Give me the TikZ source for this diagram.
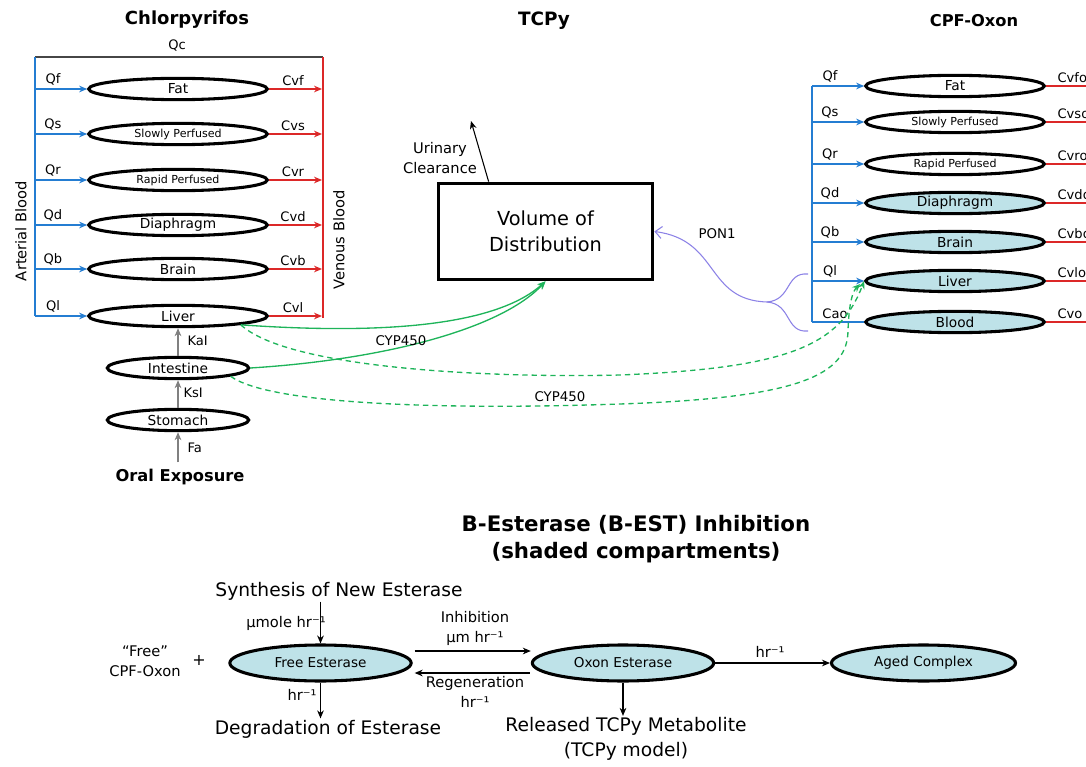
\documentclass[tikz,border=0pt]{standalone}
\usepackage{fontspec}
\setmainfont{DejaVu Sans}
\usetikzlibrary{shapes.geometric,arrows.meta,calc}
\definecolor{ablue}{RGB}{36,125,210}
\definecolor{vred}{RGB}{220,40,40}
\definecolor{cgreen}{RGB}{30,180,90}
\definecolor{ppurple}{RGB}{140,130,230}
\definecolor{shade}{RGB}{190,226,232}
\definecolor{topgray}{RGB}{70,70,70}
\tikzset{
  comp/.style={ellipse, draw=black, line width=2.3pt, inner sep=0pt,
    minimum width=134pt, minimum height=16pt, font=\fontsize{10.3}{12}\selectfont},
  smallcomp/.style={comp, font=\fontsize{8.3}{10}\selectfont},
  gut/.style={comp, minimum width=106pt, minimum height=16pt},
  shcomp/.style={comp, fill=shade},
  bcomp/.style={ellipse, draw=black, line width=2.3pt, fill=shade, inner sep=0pt,
    minimum width=136pt, minimum height=27pt, font=\fontsize{10.2}{12}\selectfont},
  lbl/.style={font=\fontsize{9.8}{11}\selectfont, inner sep=1pt},
  ttl/.style={font=\bfseries\fontsize{12.2}{14}\selectfont},
  barrow/.style={draw=ablue, line width=0.9pt, -{Stealth[length=6pt,width=5pt]}},
  bline/.style={draw=ablue, line width=0.9pt},
  rarrow/.style={draw=vred, line width=0.9pt, -{Stealth[length=6pt,width=5pt]}},
  rline/.style={draw=vred, line width=0.9pt},
  garrow/.style={draw=gray, line width=0.9pt, -{Stealth[length=6pt,width=5pt]}},
  karrow/.style={draw=black, line width=0.8pt, -{Stealth[length=6pt,width=5pt]}},
  cyp/.style={draw=cgreen, line width=1pt, -{Stealth[length=6pt,width=5pt]}},
  cypd/.style={cyp, dash pattern=on 4pt off 3pt},
  pon/.style={draw=ppurple, line width=0.8pt},
  midtxt/.style={font=\fontsize{11}{15}\selectfont, align=center, inner sep=1pt},
  bigtxt/.style={font=\fontsize{14}{18.75}\selectfont, align=center, inner sep=1pt},
}
\begin{document}
\begin{tikzpicture}[x=0.75pt,y=-0.75pt]
\useasboundingbox (0,0) rectangle (1086,767);

% ---------------- Chlorpyrifos ----------------
\node[ttl, font=\bfseries\fontsize{13.5}{15}\selectfont] (t1) at (187,20) {Chlorpyrifos};
\coordinate (aTop) at (35,57);
\coordinate (vTop) at (323,57);
\coordinate (aBot) at (35,316);
\coordinate (vBot) at (323,318);
\draw[topgray, line width=0.9pt] (aTop) -- (vTop);
\node[lbl] (qc) at (177,45) {Qc};
\draw[bline] (aTop) -- (aBot);
\draw[rline] (vTop) -- (vBot);
\node[font=\fontsize{11}{12}\selectfont, rotate=90] (art) at (21,231) {Arterial Blood};
\node[font=\fontsize{11}{12}\selectfont, rotate=90] (ven) at (339,240) {Venous Blood};

\foreach \n/\t/\y/\q/\c/\st in {
  lf/Fat/89/Qf/Cvf/comp,
  ls/Slowly Perfused/134/Qs/Cvs/smallcomp,
  lr/Rapid Perfused/180/Qr/Cvr/smallcomp,
  ld/Diaphragm/225/Qd/Cvd/comp,
  lb/Brain/269/Qb/Cvb/comp,
  ll/Liver/316/Ql/Cvl/comp}{
  \node[\st] (\n) at (178,\y) {\t};
  \coordinate (a\n) at (35,\y);
  \coordinate (v\n) at (322,\y);
  \draw[barrow] (a\n) -- (\n.west);
  \draw[rarrow] (\n.east) -- (v\n);
  \node[lbl, anchor=south] (q\n) at (53,{\y-2}) {\q};
  \node[lbl, anchor=south] (c\n) at (293,{\y-2}) {\c};
}

\node[gut] (int) at (178,368) {Intestine};
\node[gut] (sto) at (178,420) {Stomach};
\node[ttl] (oral) at (180,477) {Oral Exposure};
\draw[garrow] (int.north) -- (ll.south);
\draw[garrow] (sto.north) -- (int.south);
\draw[garrow] ($(oral.north)+(-2,-2)$) -- (sto.south);
\node[lbl, anchor=west] (ka) at (186,341) {KaI};
\node[lbl, anchor=west] (ks) at (182,393) {KsI};
\node[lbl, anchor=west] (fa) at (186,448) {Fa};

% ---------------- TCPy ----------------
\node[ttl, font=\bfseries\fontsize{13.8}{15}\selectfont] (t2) at (544,21) {TCPy};
\node[draw=black, line width=2.3pt, minimum width=161pt, minimum height=72.5pt,
  inner sep=0pt, font=\fontsize{14.5}{19.5}\selectfont, align=center] (box) at (545.5,231.5)
  {Volume of\\Distribution};
\coordinate (uc) at (471,121);
\draw[karrow] ($(box.north west)+(52,0)$) -- (uc);
\node[midtxt] (uctxt) at (440,158) {Urinary\\Clearance};

% ---------------- CPF-Oxon ----------------
\node[ttl] (t3) at (974,21) {CPF-Oxon};
\coordinate (rTop) at (812,86);
\coordinate (rBot) at (812,322);
\draw[bline] (rTop) -- (rBot);
\foreach \n/\t/\y/\q/\c/\st in {
  rf/Fat/86/Qf/Cvfo/comp,
  rs/Slowly Perfused/122/Qs/Cvso/smallcomp,
  rr/Rapid Perfused/164/Qr/Cvro/smallcomp,
  rd/Diaphragm/203/Qd/Cvdo/shcomp,
  rb/Brain/242/Qb/Cvbo/shcomp,
  rl/Liver/281/Ql/Cvlo/shcomp}{
  \node[\st] (\n) at (955,\y) {\t};
  \coordinate (a\n) at (812,\y);
  \coordinate (v\n) at (1095,\y);
  \draw[barrow] (a\n) -- (\n.west);
  \draw[rline] (\n.east) -- (v\n);
  \node[lbl, anchor=south] (q\n) at (830,{\y-2}) {\q};
  \node[lbl, anchor=south west] (c\n) at (1056,{\y-2}) {\c};
}
\node[shcomp] (rblood) at (955,322) {Blood};
\coordinate (arbl) at (812,322);
\coordinate (vrbl) at (1095,322);
\draw[bline] (arbl) -- (rblood.west);
\draw[rline] (rblood.east) -- (vrbl);
\node[lbl, anchor=south] (cao) at (835,320) {Cao};
\node[lbl, anchor=south west] (cvo) at (1056,320) {Cvo};

% PON1 brace
\coordinate (brT) at (808,274);
\coordinate (brB) at (808,331);
\coordinate (brM) at (767,302);
\draw[pon] (brT) .. controls (785,272) and (792,300) .. (brM);
\draw[pon] (brB) .. controls (785,333) and (792,304) .. (brM);
\draw[pon, -{Straight Barb[length=5pt,width=9pt]}] (brM) .. controls (705,300) and (720,240) .. (box.east);
\node[lbl, font=\fontsize{10}{12}\selectfont] (pon1) at (717,234) {PON1};

% CYP450 green
\draw[cyp] (ll.-8) .. controls (400,336) and (500,322) .. (box.south);
\draw[cyp] (int.east) .. controls (380,360) and (500,330) .. (box.south);
\node[lbl, font=\fontsize{10}{12}\selectfont] (cyp1) at (401,341) {CYP450};
\coordinate (d1) at (620,375);
\coordinate (d2) at (620,404);
\draw[cypd] (ll.-8) .. controls (290,370) and (500,378) .. (d1)
   .. controls (790,368) and (840,345) .. (rl.west);
\draw[cypd] (int.-9) .. controls (270,405) and (450,410) .. (d2)
   .. controls (800,398) and (848,375) .. (848,330) .. controls (849,305) and (852,292) .. ($(rl.west)+(-4,3)$);
\node[lbl, font=\fontsize{10}{12}\selectfont] (cyp2) at (560,397) {CYP450};

% ---------------- B-Esterase ----------------
\node[font=\bfseries\fontsize{16}{20.25}\selectfont, align=center] (t4) at (636,539)
  {B-Esterase (B-EST) Inhibition\\(shaded compartments)};
\node[bcomp] (fe) at (320.5,663) {Free Esterase};
\node[bcomp] (oe) at (623,663) {Oxon Esterase};
\node[bcomp, minimum width=138pt] (ac) at (923.5,663) {Aged Complex};
\node[bigtxt] (syn) at (339,591) {Synthesis of New Esterase};
\node[bigtxt] (deg) at (328,729) {Degradation of Esterase};
\node[bigtxt] (rel) at (626,739) {Released TCPy Metabolite\\(TCPy model)};
\node[midtxt] (free) at (145,661) {“Free”\\CPF-Oxon};
\node[font=\fontsize{12}{14}\selectfont] (plus) at (199,660) {+};

\draw[karrow] (syn.south -| fe.north) -- (fe.north);
\node[midtxt] (umole) at (286,623) {μmole hr⁻¹};
\draw[karrow] (fe.south) -- (fe.south |- deg.north);
\node[midtxt] (hr1) at (302,695) {hr⁻¹};
\draw[karrow] ($(fe.east)+(2,-12)$) -- ($(oe.west)+(0,-12)$);
\node[midtxt] (inh) at (475,628) {Inhibition\\μm hr⁻¹};
\draw[karrow] ($(oe.west)+(-1,10)$) -- ($(fe.east)+(2,10)$);
\node[midtxt] (reg) at (475,692) {Regeneration\\hr⁻¹};
\draw[karrow] (oe.south) -- (oe.south |- rel.north);
\draw[karrow] (oe.east) -- (ac.west);
\node[midtxt] (hr3) at (770,652) {hr⁻¹};
\end{tikzpicture}
\end{document}
